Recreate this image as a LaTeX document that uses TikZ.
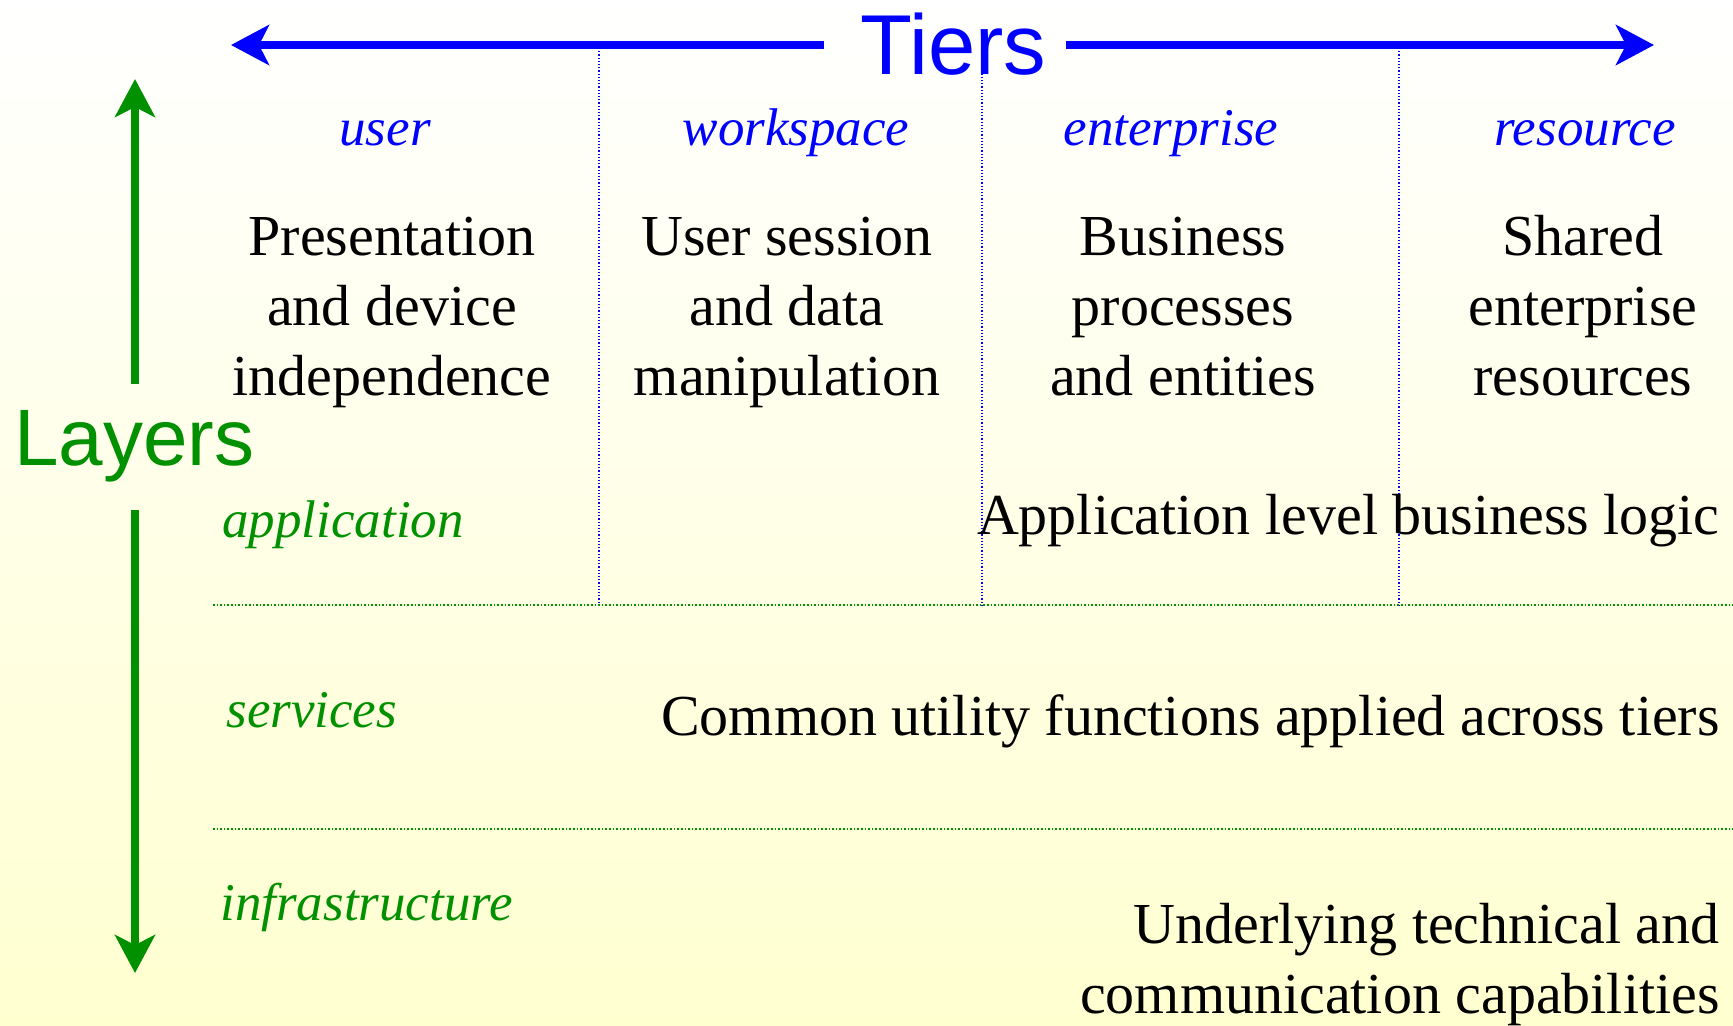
\documentclass[tikz,border=0pt]{standalone}
\usepackage{fontspec}
\setmainfont{Liberation Serif}
\setsansfont{Liberation Sans}
\usetikzlibrary{arrows.meta}

\begin{document}
\begin{tikzpicture}[x = 0.5pt, y = -0.5pt,
        tierLabel/.style = {anchor = base, text = tierColor, inner sep = 0,
            font = \fontsize{26.5}{32}\selectfont\itshape},
        layerLabel/.style = {anchor = base west, text = layerColor, inner sep = 0,
            font = \fontsize{26.5}{32}\selectfont\itshape},
        cellText/.style = {anchor = base, align = center, inner sep = 0,
            font = \fontsize{29}{35}\selectfont},
        rowText/.style = {anchor = base east, align = right, inner sep = 0,
            font = \fontsize{29}{35}\selectfont},
        tierArrow/.style = {tierColor, line width = 4pt,
            -{Stealth[length = 19pt, width = 20pt, inset = 5pt]}},
        layerArrow/.style = {layerColor, line width = 4pt,
            -{Stealth[length = 19pt, width = 20pt, inset = 5pt]}},
        tierSep/.style = {tierColor, line width = 0.6pt, densely dotted},
        layerSep/.style = {layerColor, line width = 0.8pt, densely dotted}]

            \definecolor{bgColor}{RGB}{255,255,208};
            \definecolor{tierColor}{RGB}{0,0,255};
            \definecolor{layerColor}{RGB}{0,144,0};

            \useasboundingbox (0,0) rectangle (1733,1025);
            \shade [top color = white, bottom color = bgColor] (0,0) rectangle (1733,1025);

            % separators
            \foreach \x in {599,982,1399}
                \draw [tierSep] (\x,48) -- (\x,605);
            \draw [layerSep] (213,605) -- (1733,605);
            \draw [layerSep] (213,829) -- (1733,829);

            % tiers
            \node (tiers) [anchor = base west, inner sep = 0, text = tierColor,
                font = \sffamily\fontsize{42.5}{50}\selectfont] at (860,74) {Tiers};
            \coordinate (tierLeftEnd) at (231,45);
            \coordinate (tierRightEnd) at (1654,45);
            \draw [tierArrow, shorten <= 18pt] (tiers.west |- tierLeftEnd) -- (tierLeftEnd);
            \draw [tierArrow, shorten <= 9.5pt] (tiers.east |- tierRightEnd) -- (tierRightEnd);

            \node (tierUser) [tierLabel] at (385,145) {user};
            \node (tierWork) [tierLabel] at (796,145) {workspace};
            \node (tierEnt) [tierLabel] at (1171,145) {enterprise};
            \node (tierRes) [tierLabel] at (1585,145) {resource};

            % base = last line
            \node (cellUser) [cellText] at (392,395) {Presentation\\and device\\independence};
            \node (cellWork) [cellText] at (787,395) {User session\\and data\\manipulation};
            \node (cellEnt) [cellText] at (1183,395) {Business\\processes\\and entities};
            \node (cellRes) [cellText] at (1583,395) {Shared\\enterprise\\resources};

            % layers
            \node (layers) [anchor = base west, inner sep = 0, text = layerColor,
                font = \sffamily\fontsize{40}{48}\selectfont] at (14,465) {Layers};
            \coordinate (layTop) at (135,79);
            \coordinate (layBottom) at (135,973);
            \draw [layerArrow, shorten <= 13pt] (layers.north -| layTop) -- (layTop);
            \draw [layerArrow, shorten <= 14pt] (layers.south -| layBottom) -- (layBottom);

            \node (lyrApp) [layerLabel] at (222,537) {application};
            \node (lyrSrv) [layerLabel] at (226,727) {services};
            \node (lyrInf) [layerLabel] at (220,920) {infrastructure};

            \node (rowApp) [rowText] at (1720,534) {Application level business logic};
            \node (rowSrv) [rowText] at (1720,735) {Common utility functions applied across tiers};
            \node (rowInf) [rowText] at (1720,1013) {Underlying technical and\\communication capabilities};

        \end{tikzpicture}
\end{document}
